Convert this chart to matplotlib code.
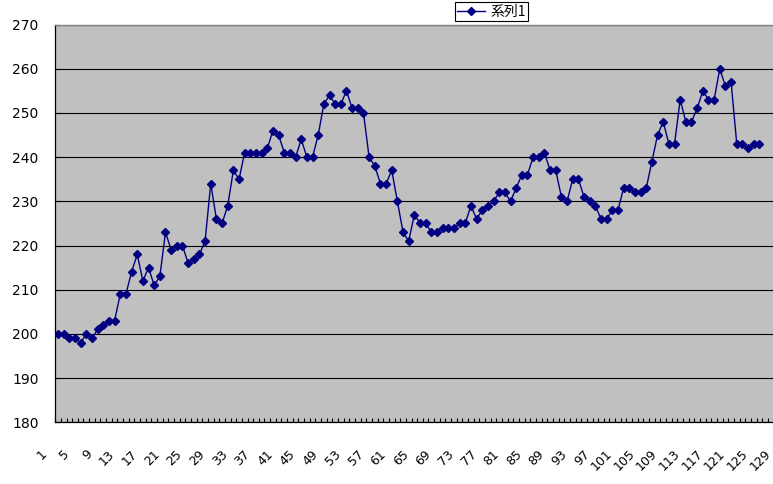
import matplotlib.pyplot as plt
from matplotlib.ticker import MultipleLocator, FixedLocator
from matplotlib.transforms import ScaledTranslation

# series values, one per category (1..125)
values = [
    200, 200, 199, 199, 198, 200, 199, 201, 202, 203,
    203, 209, 209, 214, 218, 212, 215, 211, 213, 223,
    219, 220, 220, 216, 217, 218, 221, 234, 226, 225,
    229, 237, 235, 241, 241, 241, 241, 242, 246, 245,
    241, 241, 240, 244, 240, 240, 245, 252, 254, 252,
    252, 255, 251, 251, 250, 240, 238, 234, 234, 237,
    230, 223, 221, 227, 225, 225, 223, 223, 224, 224,
    224, 225, 225, 229, 226, 228, 229, 230, 232, 232,
    230, 233, 236, 236, 240, 240, 241, 237, 237, 231,
    230, 235, 235, 231, 230, 229, 226, 226, 228, 228,
    233, 233, 232, 232, 233, 239, 245, 248, 243, 243,
    253, 248, 248, 251, 255, 253, 253, 260, 256, 257,
    243, 243, 242, 243, 243,
]
categories = list(range(1, len(values) + 1))
series_name = '系列1'
n_slots = 133          # category slots on the axis (plot runs past the right edge)
tick_labels = list(range(1, 130, 4))
y_min, y_max, y_step = 180, 270, 10

W, H = 773, 484


def main():
    fig = plt.figure(figsize=(W / 100, H / 100), dpi=100)
    fig.patch.set_facecolor('white')

    px_per_cat = 5.656
    left, top, bottom = 55.2, 24.5, 422.3
    ax = fig.add_axes([left / W, (H - bottom) / H,
                       n_slots * px_per_cat / W, (bottom - top) / H])
    ax.set_facecolor('#C0C0C0')

    line, = ax.plot(categories, values, color='#000080', lw=1.0,
                    marker='D', ms=3.8, mfc='#000080', mec='#000080',
                    label=series_name, zorder=3)

    ax.set_xlim(0.5, n_slots + 0.5)
    ax.set_ylim(y_min, y_max)

    # y axis
    ax.yaxis.set_major_locator(MultipleLocator(y_step))
    ax.tick_params(axis='y', direction='in', length=3.6, width=0.8,
                   pad=12, labelsize=10, colors='black')
    ax.yaxis.grid(True, color='black', lw=0.8)
    ax.set_axisbelow(True)

    # x axis: labels every 4th category, small ticks between categories
    ax.xaxis.set_major_locator(FixedLocator(tick_labels))
    ax.xaxis.set_minor_locator(MultipleLocator(1, offset=0.5))
    ax.set_xticklabels([str(t) for t in tick_labels])
    ax.tick_params(axis='x', which='major', length=0, pad=18, labelsize=9)
    ax.tick_params(axis='x', which='minor', direction='in', length=2.6,
                   width=0.8, color='black')
    shift = ScaledTranslation(-18 / 100, 0, fig.dpi_scale_trans)
    for lab in ax.get_xticklabels():
        lab.set_rotation(45)
        lab.set_rotation_mode('anchor')
        lab.set_ha('right')
        lab.set_va('top')
        lab.set_transform(lab.get_transform() + shift)

    for side in ['left', 'bottom']:
        ax.spines[side].set_color('black')
        ax.spines[side].set_linewidth(0.9)
    ax.spines['top'].set_color('#808080')
    ax.spines['top'].set_linewidth(1.0)
    ax.spines['right'].set_visible(False)

    leg = fig.legend(handles=[line], labels=[series_name], loc='center',
                     bbox_to_anchor=(491.5 / W, 1 - 11.5 / H),
                     prop={'family': ['Noto Sans CJK JP', 'DejaVu Sans'], 'size': 10},
                     fancybox=False, framealpha=1, edgecolor='black',
                     borderpad=0.15, handlelength=2.0, handletextpad=0.4,
                     borderaxespad=0)
    leg.get_frame().set_linewidth(0.8)

    fig.savefig('out.png', dpi=100)


if __name__ == "__main__":
    main()
